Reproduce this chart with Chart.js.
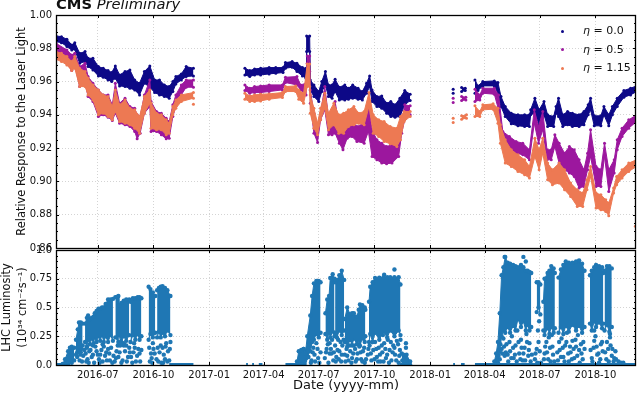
<!DOCTYPE html>
<html>
<head>
    <title>CMS Laser Response</title>
    <script src="https://cdn.jsdelivr.net/npm/chart.js"></script>
    <style>
        html, body { margin: 0; background: #fff; overflow: hidden; }
        #page { position: relative; width: 640px; height: 393px; font-family: "DejaVu Sans", sans-serif; color: #111; }
        canvas { position: absolute; left: 0; }
        #cms { position: absolute; left: 56px; top: -6px; font-size: 14.7px; line-height: 20px; white-space: nowrap; }
        #legend { position: absolute; left: 560px; top: 23px; font-size: 11px; }
        #legend div { position: relative; height: 18.6px; line-height: 16px; padding-left: 23px; white-space: nowrap; }
        #legend span { position: absolute; left: 1px; top: 6.5px; width: 3px; height: 3px; border-radius: 50%; }
    </style>
</head>
<body>
<div id="page">
    <canvas id="laserChart" width="640" height="258" style="top:0"></canvas>
    <canvas id="lumiChart" width="640" height="153" style="top:240px"></canvas>
    <div id="cms"><b>CMS</b> <i>Preliminary</i></div>
    <div id="legend"></div>
</div>

<script>
// x values are days counted from 2016-07-01
const xTickDays = [0, 92, 184, 274, 365, 457, 549, 639, 730, 822];
const xTickLabels = ['2016-07', '2016-10', '2017-01', '2017-04', '2017-07', '2017-10', '2018-01', '2018-04', '2018-07', '2018-10'];
const laserTicks = [0.86, 0.88, 0.90, 0.92, 0.94, 0.96, 0.98, 1.00];
const lumiTicks = [0, 0.25, 0.5, 0.75, 1];
const lumiTickLabels = ['0.0', '0.25', '0.5', '0.75', '1.0'];

// eta = 0.0, upper and lower edge of the band
const eta00Days = [-69,-60,-51,-43,-38,-30,-21,-16,-8,1,9,17,23,29,36,45,53,61,69,77,86,94,102,110,118,124,129,138,146,158,200,
    243,251,259,269,283,294,306,310,321,329,338,344,345,350,351,357,365,370,376,381,387,392,399,408,414,421,430,437,444,449,453,461,469,477,484,491,499,507,516,550,
    587,594,601,607,615,623,628,636,655,661,666,673,683,694,705,713,715,722,729,737,743,753,757,761,768,776,784,795,803,810,814,820,831,836,844,850,858,869,880,890];
const eta00High = [.9874,.987,.9854,.982,.9834,.977,.978,.974,.974,.969,.968,.9666,.9654,.9694,.964,.966,.967,.961,.959,.966,.9694,.961,.961,.958,.957,.96,.963,.9646,.969,.968,null,
    .968,.9666,.9676,.968,.9684,.9684,.9684,.9714,.972,.971,.9684,.968,.9874,.9874,.961,.958,.954,.96,.966,.958,.958,.9614,.9566,.958,.956,.958,.956,.954,.959,.9634,.955,.951,.9514,.947,.948,.946,.95,.9546,.9524,null,
    .9554,null,.9564,.956,null,.961,.9574,.96,.9604,.9594,.951,.945,.941,.94,.94,.94,.943,.95,.943,.948,.94,.939,.945,.95,.94,.942,.941,.94,.942,.946,.95,.9394,.9394,.945,.94,.945,.95,.9546,.956,.9574];
const eta00Low = [.984,.9834,.981,.979,.9794,.971,.972,.969,.967,.9634,.9626,.961,.96,.962,.9574,.957,.956,.955,.952,.959,.9566,.9534,.952,.951,.95,.954,.9586,.961,.963,.9634,null,
    .964,.963,.964,.964,.9646,.965,.9654,.968,.9686,.966,.9634,.962,.978,.978,.955,.951,.948,.954,.958,.951,.95,.954,.949,.949,.9494,.95,.9494,.949,.953,.957,.948,.945,.944,.941,.939,.9386,.939,.946,.9486,null,
    .953,null,.954,.9546,null,.953,.9546,.9574,.9574,.953,.945,.939,.9346,.9334,.933,.933,.94,.941,.934,.94,.933,.933,.941,.939,.933,.934,.933,.933,.934,.94,.943,.9334,.9334,.94,.9334,.94,.945,.9506,.952,.954];

// eta = 0.5
const eta05Days = [-69,-51,-43,-38,-30,-21,-16,-8,1,9,17,24,29,36,45,53,61,65,70,77,86,88,97,105,113,118,124,129,138,146,158,200,
    243,251,259,269,283,305,310,329,335,344,346,350,351,357,363,368,375,381,387,392,399,405,412,420,428,440,447,453,461,469,477,486,497,502,507,516,550,
    587,594,601,608,615,623,631,636,655,662,669,680,691,702,713,721,728,735,742,749,755,762,771,779,787,795,803,809,814,823,831,837,844,853,858,866,877,890];
const eta05High = [.983,.979,.976,.977,.969,.971,.963,.959,.955,.952,.952,.946,.959,.947,.95,.945,.944,.94,.939,.952,.961,.948,.942,.941,.938,.936,.946,.952,.958,.961,.961,null,
    .958,.956,.957,.9574,.958,.958,.9626,.963,.958,.959,.9754,.9754,.955,.941,.933,.941,.957,.939,.935,.948,.933,.93,.935,.936,.933,.935,.947,.931,.925,.923,.921,.922,.923,.935,.946,.9454,null,
    .95,null,.951,.9506,null,.9554,.952,.956,.956,.952,.93,.927,.924,.923,.919,.943,.933,.942,.919,.919,.928,.923,.917,.921,.919,.913,.907,.917,.931,.909,.907,.923,.907,.913,.925,.932,.937,.94];
const eta05Low = [.976,.971,.9666,.97,.957,.959,.951,.948,.939,.94,.9386,.9366,.941,.935,.934,.933,.93,.9256,.929,.941,.945,.93,.93,.928,.9256,.926,.939,.945,.952,.9566,.9566,null,
    .9546,.953,.9534,.9534,.954,.955,.9594,.958,.955,.952,.971,.966,.947,.929,.9234,.937,.943,.928,.928,.929,.923,.919,.926,.927,.924,.923,.93,.915,.913,.911,.9106,.911,.915,.929,.937,.94,null,
    .9474,null,.9486,.949,null,.948,.949,.953,.9524,.943,.923,.92,.917,.916,.913,.935,.923,.931,.913,.913,.921,.911,.907,.905,.903,.896,.897,.907,.915,.897,.897,.915,.894,.905,.919,.927,.932,.936];

// eta = 1.15
const eta115Days = [-69,-60,-51,-43,-38,-30,-21,-16,-8,1,9,17,24,29,36,45,53,61,69,77,86,88,97,105,113,118,124,129,138,158,200,
    243,251,259,269,283,305,310,327,332,340,346,350,351,357,363,368,375,381,390,398,406,414,423,431,440,448,455,464,473,483,494,500,506,516,550,
    587,594,601,609,615,623,631,636,653,661,665,673,683,694,705,713,722,729,735,743,751,762,771,781,792,801,808,814,823,831,839,844,852,857,866,877,890];
const eta115High = [.978,.977,.975,.972,.975,.968,.966,.962,.958,.955,.952,.951,.945,.955,.946,.949,.944,.943,.939,.951,.955,.947,.941,.94,.937,.935,.945,.949,.952,.9534,null,
    .953,.9514,.952,.9524,.9526,.9534,.957,.9574,.955,.953,.9706,.9706,.952,.944,.935,.944,.953,.941,.947,.94,.941,.943,.945,.941,.942,.9534,.94,.937,.936,.933,.932,.939,.942,.942,null,
    .938,null,.9394,.94,null,.9454,.942,.946,.9466,.944,.934,.925,.919,.916,.913,.909,.926,.919,.926,.911,.907,.911,.907,.899,.895,.893,.901,.909,.893,.892,.889,.887,.896,.903,.907,.911,.913];
const eta115Low = [.9734,.972,.97,.9666,.968,.957,.957,.952,.949,.94,.941,.939,.937,.942,.936,.935,.934,.932,.929,.941,.947,.932,.931,.931,.928,.929,.94,.944,.948,.95,null,
    .9494,.948,.948,.9484,.9494,.9504,.954,.954,.9494,.947,.957,.957,.941,.932,.928,.937,.944,.931,.934,.929,.929,.933,.934,.935,.934,.945,.929,.927,.924,.9226,.921,.925,.936,.939,null,
    .9354,null,.9374,.938,null,.939,.939,.943,.9434,.935,.923,.911,.909,.906,.904,.902,.915,.907,.917,.901,.898,.899,.895,.891,.885,.885,.895,.903,.884,.883,.882,.8794,.893,.898,.902,.906,.909];

// the two lone eta = 1.15 readings away from the band
const strayDays = [158, 888];
const strayValues = [0.9464, 0.873];

// luminosity: solid part of each fill, one line per group of fills
const lumiDays = [-58,-54,-49,-46,-43,-39,-37, -36,-33,-31,-28,-25,-24, -21,-18,-16,-13,-10,-7,-5,-2,1,4,7,10,13,17,21,25,27, 29,34,35,39,43,47,52,53, 54,58,62,66,69,72,73, 84,87,91,95,96, 98,101,104,107,111,115,120,122,
    329,332,336,340,343,346,351,354,357,361,365,368,369, 376,379,382,384,388,391,391.5, 392,395,399,403,407,407.5, 408,412,417,420,423,428,431,433,437,441,442,445, 448,450,454,458,465,472,478,483,490,497,500,501, 502,505,510,516,520,
    655,658,661,664,667,670,673,677,681,686,690,694,699,703,707,710,713,716,717, 725,728,731,732, 736,738,743,746,749,753,755,756, 761,765,769,773,778,784,790,795,800,804,805, 813,816,820,823,828,833,835,836, 837,841,845,849,850];
const lumiHigh = [.01,.05,.12,.15,.16,.15,null, .22,.31,.37,.37,.36,null, .36,.41,.43,.4,.41,.42,.45,.47,.49,.49,.5,.5,.53,.57,.57,.575,null, .59,.6,.52,.54,.56,.57,.57,null, .55,.58,.58,.59,.59,.58,null, .68,.66,.63,.6,null, .65,.67,.68,.685,.67,.65,.6,null,
    .03,.12,.13,.14,.1,.25,.43,.6,.71,.73,.73,.72,null, .45,.57,.6,.756,.79,.75,null, .72,.74,.78,.82,.74,null, .4,.5,.44,.45,.45,.42,.48,.526,.52,.5,.48,null, .55,.68,.72,.756,.76,.764,.764,.764,.764,.764,.7,null, .1,.09,.09,.03,null,
    .03,.1,.2,.45,.78,.85,.94,.89,.88,.87,.86,.85,.87,.85,.82,.82,.81,.8,null, .72,.72,.7,null, .55,.75,.8,.82,.86,.84,.8,null, .76,.83,.87,.9,.89,.89,.9,.91,.88,.82,null, .78,.82,.85,.87,.86,.85,.8,null, .82,.86,.86,.84,null];
const lumiLow = [0,0,.01,.03,.02,.04,null, .09,.13,.15,.11,.17,null, .2,.16,.22,.18,.23,.19,.24,.2,.25,.21,.26,.2,.25,.2,.26,.21,null, .24,.2,.26,.2,.25,.21,.26,null, .2,.26,.22,.27,.22,.25,null, .22,.27,.24,.28,null, .24,.29,.24,.28,.25,.3,.26,null,
    0,.01,.04,.02,.05,.07,.12,.2,.22,.27,.24,.28,null, .27,.22,.28,.24,.29,.25,null, .28,.24,.3,.26,.3,null, .2,.16,.22,.17,.23,.18,.22,.17,.23,.2,.25,null, .2,.27,.2,.28,.22,.29,.24,.3,.25,.3,.26,null, 0,.01,0,0,null,
    0,0,.02,.12,.25,.3,.28,.33,.28,.34,.3,.4,.33,.38,.3,.35,.3,.33,null, .46,.5,.44,null, .3,.26,.32,.27,.33,.28,.32,null, .28,.33,.27,.34,.29,.35,.3,.34,.28,.33,null, .36,.3,.38,.33,.37,.32,.36,null, .3,.35,.29,.33,null];

// separate fills lying under the solid part
const lumiDotDays = [-32,-34,-27,-24,-30,-20,-14,-17,-10,-6,-2,2,6,3,12,17,20,14,24,31,34,37,41,45,50,47,53,57,61,65,69,88,92,97,86,102,107,111,116,105,118,113,
    335,338,342,345,348,350,353,356,358,361,364,375,378,381,383,386,389,392,394,397,399,402,404,408,411,414,417,420,423,426,429,432,435,438,441,446,449,452,455,458,461,464,467,470,473,476,479,482,485,488,491,494,497,499,509,
    664,667,670,672,675,678,681,684,687,690,693,696,699,702,705,708,711,713,722,725,727,729,732,738,741,744,747,750,752,760,763,766,769,772,775,778,781,784,787,790,793,796,799,802,816,819,822,825,828,831,834,840,843,846,849,852,855];
const lumiDotValues = [.12,.07,.14,.08,.04,.1,.12,.05,.07,.02,.12,.05,.13,.02,.08,.14,.04,.11,.02,.12,.07,.17,.04,.12,.07,.17,.11,.02,.15,.08,.1,.1,.14,.05,.03,.11,.15,.05,.12,.02,.04,.19,
    .05,.1,.03,.12,.07,.17,.04,.15,.09,.19,.06,.06,.14,.02,.19,.1,.04,.17,.07,.22,.12,.03,.17,.09,.14,.04,.12,.06,.17,.03,.1,.16,.05,.12,.02,.09,.17,.04,.13,.2,.07,.15,.03,.11,.19,.06,.22,.13,.04,.17,.09,.21,.02,.13,.19,
    .05,.14,.23,.08,.18,.03,.12,.25,.06,.17,.3,.1,.22,.04,.15,.27,.08,.19,.05,.14,.3,.38,.02,.1,.2,.05,.15,.26,.09,.04,.13,.23,.07,.17,.28,.03,.11,.21,.06,.16,.26,.02,.1,.2,.06,.15,.25,.09,.02,.18,.12,.05,.14,.24,.08,.03,.12];
const lumiMoreDotDays = [-34,-29,-26,-22,-18,-15,-12,-8,-4,0, 4,8,10,15,19,22,26,30,33,36, 39,43,48,52,55,59,63,67,70,72, 85,89,91,94,99,100,104,109,112,115, 119,120,-19,-8,8,28,43,60,90,108,
    336,340,344,347,352,355,359,363,366,368, 377,380,383,385,387,390,393,396,398,401, 403,406,409,412,416,419,422,425,428,431, 434,437,440,443,447,451,454,457,460,463, 466,469,472,475,478,481,484,487,490,493, 496,498,500,503,506,513,490,473,509,471,
    662,665,668,671,674,677,680,683,686,689, 692,695,698,700,703,706,709,712,715,717, 723,726,728,730,737,739,742,745,748,751, 754,759,762,765,768,771,774,777,780,783, 786,789,792,795,798,801,804,814,817,820, 824,827,830,833,838,841,844,847,850,853, 672,703,707,31,856,860,864,868,820,846];
const lumiMoreDotValues = [.11,.09,.03,.13,.15,.02,.13,.09,.16,.09, .09,.03,.16,.04,.1,.15,.08,.06,.17,.11, .02,.17,.03,.15,.07,.11,.03,.14,.03,.13, .15,.06,.19,.1,.15,.03,.17,.09,.16,.03, .14,.2,.03,.17,.18,.03,.19,.19,.02,.02,
    .02,.14,.06,.15,.02,.11,.03,.14,.02,.11, .11,.18,.1,.14,.22,.11,.03,.13,.05,.2, .09,.22,.03,.08,.17,.02,.1,.14,.05,.18, .11,.03,.15,.05,.14,.1,.2,.05,.14,.03, .09,.17,.03,.14,.09,.02,.2,.11,.15,.04, .18,.08,.22,.04,.05,.03,.83,.785,.15,.26,
    .08,.18,.1,.16,.11,.09,.2,.06,.15,.09, .03,.2,.05,.15,.1,.04,.2,.13,.03,.09, .1,.02,.2,.12,.05,.16,.11,.24,.03,.16, .03,.11,.2,.07,.15,.03,.2,.1,.16,.05, .14,.22,.08,.13,.18,.05,.14,.13,.03,.21, .16,.1,.05,.2,.11,.2,.03,.17,.14,.06, .94,.94,.9,.59,.05,.03,.02,.02,.3,.27];

// readings sitting on zero between fills
const lumiFloorDays = [-69,-55,null,118,158,null,245,248,null,255,258,null,266,272,null,310,345,null,500,516,null,587,590,null,600,606,null,623,655,null,655,889];

const plasmaNavy = '#0d0887', plasmaPurple = '#9c179e', plasmaOrange = '#ed7953', lumiBlue = '#1f77b4';
const gridColor = '#d4d4d4';

function pairs(xs, ys) {
    return xs.map((x, i) => ({x: x, y: ys[i]}));
}

function band(days, high, low, color, radius) {
    const common = {showLine: true, borderColor: color, backgroundColor: color, pointRadius: radius, pointBorderWidth: 0, borderWidth: 1, spanGaps: false};
    return [
        Object.assign({data: pairs(days, high), fill: '+1'}, common),
        Object.assign({data: pairs(days, low), fill: false}, common)
    ];
}

// inward ticks and the box round the plot
const framePlugin = {
    id: 'frame',
    afterDraw(chart, args, opts) {
        const ctx = chart.ctx, area = chart.chartArea, xs = chart.scales.x, ys = chart.scales.y;
        ctx.save();
        ctx.strokeStyle = '#000';
        ctx.lineWidth = 1;
        ctx.beginPath();
        xTickDays.forEach(d => {
            const px = Math.round(xs.getPixelForValue(d)) + 0.5;
            ctx.moveTo(px, area.top); ctx.lineTo(px, area.top + 3);
            ctx.moveTo(px, area.bottom); ctx.lineTo(px, area.bottom - 3);
        });
        opts.major.forEach(v => {
            const py = Math.round(ys.getPixelForValue(v)) + 0.5;
            ctx.moveTo(area.left, py); ctx.lineTo(area.left + 3, py);
            ctx.moveTo(area.right, py); ctx.lineTo(area.right - 3, py);
        });
        opts.minor.forEach(v => {
            const py = Math.round(ys.getPixelForValue(v)) + 0.5;
            ctx.moveTo(area.left, py); ctx.lineTo(area.left + 2, py);
            ctx.moveTo(area.right, py); ctx.lineTo(area.right - 2, py);
        });
        ctx.stroke();
        ctx.lineWidth = 1.3;
        ctx.strokeRect(Math.round(area.left) + 0.5, Math.round(area.top) + 0.5, Math.round(area.right - area.left) - 1, Math.round(area.bottom - area.top));
        ctx.restore();
    }
};

const font = (size, lineHeight) => ({family: '"DejaVu Sans", sans-serif', size: size, lineHeight: lineHeight || 1.2});

function xScale(showLabels) {
    return {
        type: 'linear', min: -69, max: 889,
        afterBuildTicks: s => { s.ticks = xTickDays.map(v => ({value: v})); },
        afterFit: s => { s.height = showLabels ? 28 : 0; },
        ticks: {display: showLabels, autoSkip: false, maxRotation: 0, padding: 4, color: '#111', font: font(10),
            callback: v => xTickLabels[xTickDays.indexOf(v)]},
        grid: {color: gridColor, drawTicks: false},
        border: {display: false, dash: [1, 2]},
        title: {display: showLabels, text: 'Date (yyyy-mm)', color: '#111', font: font(13), padding: {top: 0, bottom: 0}}
    };
}

function minorValues(ticks, step) {
    const out = [];
    for (let i = 0; i < ticks.length - 1; i++) {
        for (let v = ticks[i] + step; v < ticks[i + 1] - step / 2; v += step) out.push(v);
    }
    return out;
}

new Chart(document.getElementById('laserChart'), {
    type: 'scatter',
    data: {
        datasets: [
            {data: pairs(strayDays, strayValues), pointRadius: 1.5, pointBorderWidth: 0, backgroundColor: plasmaOrange},
            ...band(eta115Days, eta115High, eta115Low, plasmaOrange, 1.5),
            ...band(eta05Days, eta05High, eta05Low, plasmaPurple, 1.5),
            ...band(eta00Days, eta00High, eta00Low, plasmaNavy, 1.5)
        ]
    },
    options: {
        responsive: false, animation: false,
        layout: {padding: {top: 15, bottom: 10, left: 0, right: 1}},
        plugins: {
            legend: {display: false}, tooltip: {enabled: false},
            frame: {major: laserTicks, minor: minorValues(laserTicks, 0.005)}
        },
        scales: {
            x: xScale(false),
            y: {
                min: 0.86, max: 1,
                afterBuildTicks: s => { s.ticks = laserTicks.map(v => ({value: v})); },
                afterFit: s => { s.width = 56; },
                ticks: {padding: 4, color: '#111', font: font(10), callback: v => v.toFixed(2)},
                grid: {color: gridColor, drawTicks: false},
                border: {display: false, dash: [1, 2]},
                title: {display: true, text: 'Relative Response to the Laser Light', color: '#111', font: font(11.4), padding: {top: 15, bottom: 0}}
            }
        }
    },
    plugins: [framePlugin]
});

new Chart(document.getElementById('lumiChart'), {
    type: 'scatter',
    data: {
        datasets: [
            ...band(lumiDays, lumiHigh, lumiLow, lumiBlue, 2.2),
            {data: pairs(lumiDotDays, lumiDotValues), pointRadius: 2.2, pointBorderWidth: 0, backgroundColor: lumiBlue},
            {data: pairs(lumiMoreDotDays, lumiMoreDotValues), pointRadius: 2.2, pointBorderWidth: 0, backgroundColor: lumiBlue},
            {data: lumiFloorDays.map(d => ({x: d === null ? NaN : d, y: d === null ? null : 0})), showLine: true, borderColor: lumiBlue, borderWidth: 4, pointRadius: 0, spanGaps: false}
        ]
    },
    options: {
        responsive: false, animation: false,
        layout: {padding: {top: 8, bottom: 0, left: 0, right: 1}},
        plugins: {
            legend: {display: false}, tooltip: {enabled: false},
            frame: {major: lumiTicks, minor: minorValues(lumiTicks, 0.05)}
        },
        scales: {
            x: xScale(true),
            y: {
                min: 0, max: 1,
                afterBuildTicks: s => { s.ticks = lumiTicks.map(v => ({value: v})); },
                afterFit: s => { s.width = 56; },
                ticks: {padding: 4, color: '#111', font: font(10), callback: v => lumiTickLabels[lumiTicks.indexOf(v)]},
                grid: {color: gridColor, drawTicks: false},
                border: {display: false, dash: [1, 2]},
                title: {display: true, text: ['LHC Luminosity', '(10³⁴ cm⁻²s⁻¹)'], color: '#111', font: font(11.4, 1.32), padding: {top: 0, bottom: 0}}
            }
        }
    },
    plugins: [framePlugin]
});

const legendNames = ['0.0', '0.5', '1.15'];
const legendColors = [plasmaNavy, plasmaPurple, plasmaOrange];
document.getElementById('legend').innerHTML = legendNames.map((n, i) =>
    '<div><span style="background:' + legendColors[i] + '"></span><i>η</i> = ' + n + '</div>').join('');
</script>
</body>
</html>
